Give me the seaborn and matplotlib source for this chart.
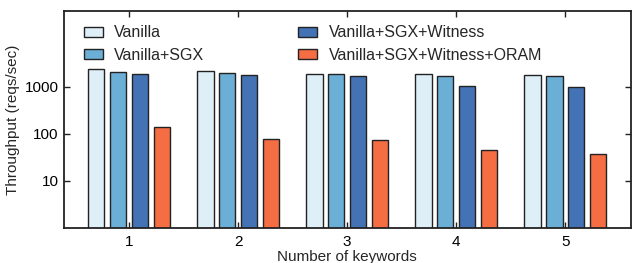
import pandas as pd
import matplotlib
matplotlib.use("Agg")
import matplotlib.pyplot as plt
import seaborn as sns

# values (reqs/sec)
keywords = ["1", "2", "3", "4", "5"]
configs = ["Vanilla", "Vanilla+SGX", "Vanilla+SGX+Witness", "Vanilla+SGX+Witness+ORAM"]
vanilla = [2340, 2100, 1870, 1870, 1780]
vanilla_sgx = [2000, 1900, 1840, 1640, 1640]
vanilla_sgx_witness = [1810, 1725, 1640, 1025, 1000]
vanilla_sgx_witness_oram = [136, 76, 74, 45, 38]
colors = ["#deeff7", "#6baed6", "#4372b5", "#f46d43"]

rows = []
for name, vals in zip(configs, [vanilla, vanilla_sgx, vanilla_sgx_witness, vanilla_sgx_witness_oram]):
    for k, v in zip(keywords, vals):
        rows.append({"keywords": k, "config": name, "throughput": v})
df = pd.DataFrame(rows)

sns.set_style("ticks")
plt.rcParams["font.family"] = ["Liberation Sans", "DejaVu Sans"]

fig = plt.figure(figsize=(6.32, 2.63), dpi=100)
ax = fig.add_axes([0.1005, 0.133, 0.8975, 0.825])

sns.barplot(data=df, x="keywords", y="throughput", hue="config",
            hue_order=configs, palette=colors, width=0.8, gap=0.25,
            edgecolor="#222222", linewidth=1.0, saturation=1, ax=ax)

ax.set_yscale("log")
ax.set_ylim(1, 40000)
ax.set_xlim(-0.6, 4.6)
ax.set_yticks([10, 100, 1000])
ax.set_yticklabels(["10", "100", "1000"])
ax.minorticks_off()
ax.tick_params(axis="both", direction="in", top=True, right=True,
               labelsize=11, length=4, width=1, colors="#222222", labelcolor="black")
ax.tick_params(axis="x", pad=5)
for s in ax.spines.values():
    s.set_linewidth(1.3)
    s.set_color("#222222")

ax.set_xlabel("Number of keywords", fontsize=11, labelpad=1)
ax.set_ylabel("Throughput (reqs/sec)", fontsize=11, labelpad=3)

ax.legend(loc="upper left", bbox_to_anchor=(0.01, 1.0), ncol=2, frameon=False,
          fontsize=11.5, handlelength=1.2, handleheight=0.55, handletextpad=0.7,
          columnspacing=5.9, labelspacing=0.45)

fig.savefig("out.png", dpi=100)
